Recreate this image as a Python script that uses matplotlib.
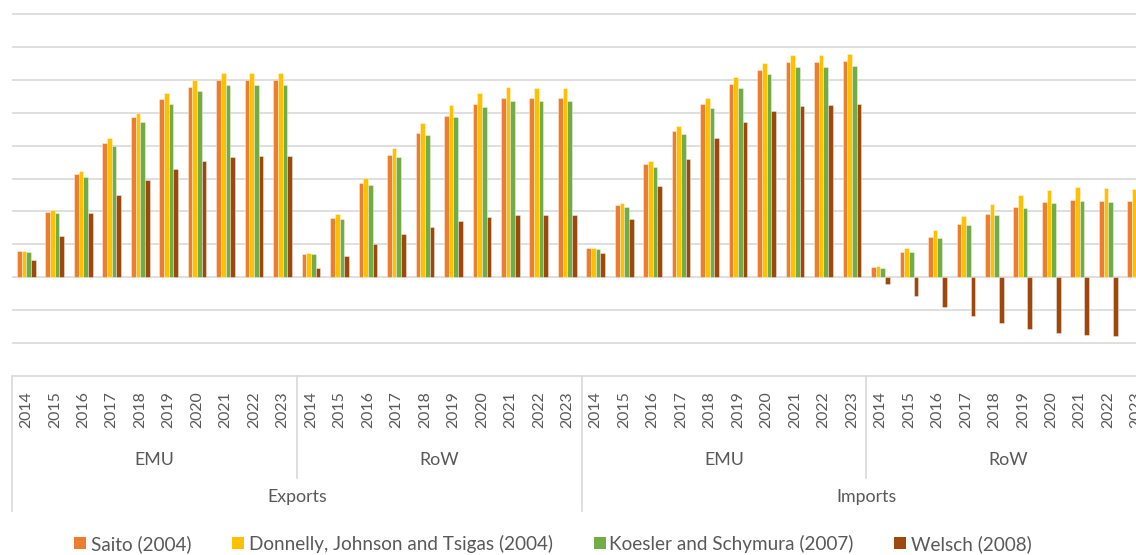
import matplotlib
matplotlib.use("Agg")
import matplotlib.pyplot as plt
import numpy as np
from matplotlib.transforms import blended_transform_factory
from matplotlib.patches import Rectangle

# ---------------- data ----------------
years = ["2014", "2015", "2016", "2017", "2018", "2019", "2020", "2021", "2022", "2023"]
regions = ["EMU", "RoW"]
flows = ["Exports", "Imports"]
series_names = ["Saito (2004)", "Donnelly, Johnson and Tsigas (2004)",
                "Koesler and Schymura (2007)", "Welsch (2008)"]

saito = [0.79, 1.98, 3.14, 4.09, 4.86, 5.43, 5.80, 6.00, 6.00, 6.00,
         0.70, 1.80, 2.85, 3.71, 4.40, 4.91, 5.26, 5.44, 5.44, 5.44,
         0.88, 2.20, 3.45, 4.46, 5.27, 5.89, 6.31, 6.55, 6.56, 6.59,
         0.30, 0.76, 1.22, 1.61, 1.91, 2.13, 2.29, 2.34, 2.32, 2.32]
donnelly = [0.79, 2.04, 3.23, 4.23, 5.00, 5.60, 6.00, 6.20, 6.20, 6.20,
            0.73, 1.91, 3.02, 3.94, 4.69, 5.23, 5.59, 5.78, 5.77, 5.77,
            0.88, 2.26, 3.54, 4.60, 5.46, 6.09, 6.52, 6.76, 6.77, 6.80,
            0.33, 0.88, 1.43, 1.87, 2.24, 2.50, 2.66, 2.73, 2.71, 2.69]
koesler = [0.76, 1.94, 3.06, 3.99, 4.73, 5.27, 5.66, 5.84, 5.85, 5.85,
           0.69, 1.77, 2.80, 3.66, 4.34, 4.86, 5.19, 5.37, 5.37, 5.37,
           0.85, 2.13, 3.36, 4.36, 5.15, 5.76, 6.18, 6.39, 6.40, 6.43,
           0.28, 0.75, 1.20, 1.58, 1.88, 2.09, 2.25, 2.31, 2.29, 2.28]
welsch = [0.51, 1.24, 1.94, 2.51, 2.96, 3.30, 3.54, 3.67, 3.68, 3.70,
          0.27, 0.64, 1.01, 1.30, 1.52, 1.71, 1.82, 1.88, 1.88, 1.89,
          0.72, 1.78, 2.77, 3.59, 4.24, 4.72, 5.05, 5.22, 5.25, 5.27,
          -0.22, -0.58, -0.91, -1.19, -1.40, -1.58, -1.69, -1.76, -1.78, -1.79]

colors = ["#ED7D31", "#FFC000", "#70AD47", "#9E480E"]
text_color = "#595959"
grid_color = "#D9D9D9"

# ---------------- layout ----------------
plt.rcParams["font.family"] = ["Lato", "DejaVu Sans"]
W, H = 1136, 555
fig = plt.figure(figsize=(W / 100, H / 100), dpi=100)

n_cat = len(years) * len(regions) * len(flows)
left_px = 12.1
cat_px = 28.47
ymin, ymax = -3.1, 8.1
unit_px = 32.855
zero_px = 277.1
top_px = zero_px - ymax * unit_px
bot_px = zero_px - ymin * unit_px

ax = fig.add_axes([left_px / W, (H - bot_px) / H, n_cat * cat_px / W, (bot_px - top_px) / H])
ax.set_xlim(-0.5, n_cat - 0.5)
ax.set_ylim(ymin, ymax)

x = np.arange(n_cat)
bw = 0.164
all_series = [saito, donnelly, koesler, welsch]
for i, (vals, c, name) in enumerate(zip(all_series, colors, series_names)):
    ax.bar(x + (i - 1.5) * bw, vals, bw, color=c, edgecolor=(1, 1, 1, 0.45),
           linewidth=0.6, zorder=3, label=name)

ax.set_yticks(np.arange(-3, 9, 1))
ax.yaxis.grid(True, color=grid_color, linewidth=1.2)
ax.set_axisbelow(True)
ax.tick_params(left=False, labelleft=False, bottom=False, labelbottom=False)
for s in ax.spines.values():
    s.set_visible(False)

# ---------------- multi-level category axis ----------------
tr = blended_transform_factory(ax.transData, fig.transFigure)

def fy(px):
    return (H - px) / H

for k in range(n_cat):
    ax.text(k, fy(410), years[k % len(years)], transform=tr, rotation=90,
            ha="center", va="center", fontsize=11.4, color=text_color, clip_on=False)

n_reg = len(years)
for g in range(len(regions) * len(flows)):
    cx = g * n_reg + (n_reg - 1) / 2
    ax.text(cx, fy(465), regions[g % len(regions)], transform=tr, ha="center",
            va="baseline", fontsize=12.8, color=text_color)

n_flow = len(years) * len(regions)
for f in range(len(flows)):
    cx = f * n_flow + (n_flow - 1) / 2
    ax.text(cx, fy(502), flows[f], transform=tr, ha="center",
            va="baseline", fontsize=12.8, color=text_color)

# divider lines
for b in range(0, n_cat + 1, n_reg):
    xb = b - 0.5
    bottom = 511 if b % n_flow == 0 else 478
    ax.plot([xb, xb], [fy(376), fy(bottom)], transform=tr, color=grid_color,
            linewidth=1.2, clip_on=False)

# ---------------- legend ----------------
legend_sq_x = [74, 232.3, 594.2, 894.3]
legend_tx_x = [91.0, 249.0, 609.0, 911.0]
for sx, tx, c, name in zip(legend_sq_x, legend_tx_x, colors, series_names):
    fig.patches.append(Rectangle((sx / W, fy(548.5)), 11.5 / W, 11.5 / H,
                                 transform=fig.transFigure, facecolor=c, edgecolor="none"))
    fig.text(tx / W, fy(550), name, ha="left", va="baseline", fontsize=13.6,
             color=text_color)

fig.savefig("out.png", dpi=100)
